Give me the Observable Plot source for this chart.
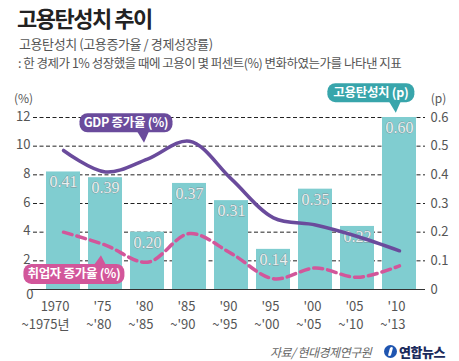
<!DOCTYPE html>
<html><head><meta charset="utf-8">
<script src="https://cdn.jsdelivr.net/npm/d3@7"></script>
<script src="https://cdn.jsdelivr.net/npm/@observablehq/plot@0.6"></script>
<style>
body{margin:0;background:#fff;width:459px;height:361px;overflow:hidden;position:relative;font-family:"Noto Sans CJK KR","Noto Sans",sans-serif;}
#title{position:absolute;left:17px;top:3px;font-size:22px;font-weight:700;color:#222;letter-spacing:-1.5px;line-height:28px;white-space:nowrap}
#sub1{position:absolute;left:19px;top:35px;font-size:13px;color:#555;letter-spacing:-0.4px;line-height:18px;white-space:nowrap}
#sub2{position:absolute;left:18px;top:54px;font-size:12.5px;color:#555;letter-spacing:-0.5px;line-height:18px;white-space:nowrap}
#chart{position:absolute;left:0;top:80px}
#src{position:absolute;left:270px;top:343px;font-size:12px;font-style:italic;color:#666;letter-spacing:-0.5px;line-height:18px;white-space:nowrap}
#logo{position:absolute;left:384px;top:342px;display:flex;align-items:center;white-space:nowrap}
#logo .c{width:13px;height:13px;border-radius:50%;background:#1f55b0;margin-right:2px;position:relative}
#logo .c:after{content:"";position:absolute;left:5px;top:2px;width:3px;height:9px;background:#fff;border-radius:2px;transform:skewX(-15deg)}
#logo .t{font-size:13px;font-weight:900;color:#1b2b5c;letter-spacing:-0.5px}
</style></head>
<body>
<div id="title">고용탄성치 추이</div>
<div id="sub1">고용탄성치 (고용증가율 / 경제성장률)</div>
<div id="sub2">: 한 경제가 1% 성장했을 때에 고용이 몇 퍼센트(%) 변화하였는가를 나타낸 지표</div>
<div id="chart"></div>
<div id="src">자료/ 현대경제연구원</div>
<div id="logo"><span class="c"></span><span class="t">연합뉴스</span></div>
<script>
const periods = ["1970~1975","1975~1980","1980~1985","1985~1990","1990~1995","1995~2000","2000~2005","2005~2010","2010~2013"];
const tickTop = ["1970","'75","'80","'85","'90","'95","'00","'05","'10"];
const tickBottom = ["~1975년","~'80","~'85","~'90","~'95","~'00","~'05","~'10","~'13"];
const elasticity = [0.41,0.39,0.20,0.37,0.31,0.14,0.35,0.22,0.60];
const gdpGrowth = [9.7,8.2,9.1,10.35,7.7,5.0,4.5,3.7,2.7];
const empGrowth = [4.0,3.1,1.9,3.9,2.5,0.75,1.5,0.85,1.65];
const leftTicks = [0,2,4,6,8,10,12];
const pScale = 20; // 0.6 p aligns with 12 %

const data = periods.map((p,i)=>({period:p, e:elasticity[i], gdp:gdpGrowth[i], emp:empGrowth[i]}));
const labelOf = Object.fromEntries(periods.map((p,i)=>[p, tickTop[i]+"\n"+tickBottom[i]]));

const teal="#80cdd0", purple="#6a4b9c", pink="#d2569a", tealDark="#38a5ab";

const plot = Plot.plot({
  width:459, height:260,
  marginTop:37, marginBottom:51, marginLeft:38, marginRight:36,
  style:{fontFamily:'"Noto Sans CJK KR","Liberation Sans",sans-serif', background:"transparent", overflow:"visible"},
  x:{domain:periods, paddingInner:0.2, paddingOuter:0.1, axis:null},
  y:{domain:[0,12], axis:null},
  marks:[
    Plot.ruleY(leftTicks.filter(d=>d>0), {stroke:"#222", strokeWidth:1, strokeDasharray:"4,2.5", insetLeft:-5, insetRight:-2}),
    Plot.barY(data, {x:"period", y:d=>d.e*pScale, fill:teal}),
    Plot.ruleY([0], {stroke:"#333", strokeWidth:1.2, insetLeft:-8, insetRight:-2}),
    Plot.text(data, {x:"period", y:d=>d.e*pScale, text:d=>d.e.toFixed(2), lineAnchor:"top", dy:4,
      fontFamily:'"Liberation Serif",serif', fontSize:16, fill:"#e9f0f1", stroke:"#7c9496", strokeWidth:0.8, paintOrder:"stroke"}),
    Plot.line(data, {x:"period", y:"gdp", curve:"catmull-rom", stroke:purple, strokeWidth:3.5}),
    Plot.line(data, {x:"period", y:"emp", curve:"catmull-rom", stroke:pink, strokeWidth:3.5, strokeDasharray:"9,5"}),
    Plot.axisY({ticks:leftTicks.filter(d=>d>0), tickSize:0, tickPadding:8, label:null, fontSize:13, color:"#555", dy:-1}),
    Plot.axisY({ticks:[0], tickSize:0, tickPadding:8, label:null, fontSize:13, color:"#555", dy:5, dx:3}),
    Plot.axisY({anchor:"right", ticks:leftTicks, tickSize:0, tickPadding:7, label:null, fontSize:13, color:"#555",
      tickFormat:d=>d===0?"0":(d/pScale).toFixed(1)}),
    Plot.axisX({tickSize:0, tickPadding:9, label:null, fontSize:13, color:"#555", lineHeight:1.35,
      tickFormat:d=>labelOf[d], textAnchor:"end", dx:6}),
    Plot.text(["(%)"], {frameAnchor:"top-left", dx:-15, dy:-23, fontSize:12, fill:"#555", textAnchor:"middle"}),
    Plot.text(["(p)"], {frameAnchor:"top-right", dx:15, dy:-23, fontSize:12, fill:"#555", textAnchor:"middle"})
  ]
});
document.getElementById("chart").appendChild(plot);

// callouts positioned through the plot's scales
const xs = plot.scale("x"), ys = plot.scale("y");
const cx = i => xs.apply(periods[i]) + xs.bandwidth/2;
const step = cx(1)-cx(0);
const svg = d3.select(plot);
function callout(x, yv, w, h, color, text, tailX, tipV, down){
  const y = ys.apply(yv), tipY = ys.apply(tipV);
  const g = svg.append("g");
  const top = y-h/2, bot = y+h/2;
  if(down){
    g.append("path").attr("d",`M${tailX-6},${bot-1}L${tailX+6},${bot-1}L${tailX+1},${tipY}Z`).attr("fill",color);
  } else {
    g.append("path").attr("d",`M${tailX-6},${top+1}L${tailX+6},${top+1}L${tailX+1},${tipY}Z`).attr("fill",color);
  }
  g.append("rect").attr("x",x-w/2).attr("y",top).attr("width",w).attr("height",h).attr("rx",8).attr("fill",color);
  g.append("text").attr("x",x).attr("y",y).attr("dy","0.36em").attr("text-anchor","middle")
    .attr("fill","#fff").attr("font-size",12.5).attr("font-weight",700).attr("letter-spacing","-0.3")
    .attr("font-family",'"Noto Sans CJK KR",sans-serif').text(text);
}
callout((cx(1)+cx(2))/2, 11.6, 93, 19, purple, "GDP 증가율 (%)", (cx(1)+cx(2))/2+17, 10.2, true);
callout(cx(0)+0.26*step, 1.05, 101, 20, pink, "취업자 증가율 (%)", cx(0)+0.88*step, 2.35, false);
callout(cx(8)-0.67*step, 13.7, 87, 19, tealDark, "고용탄성치 (p)", cx(8)-0.1*step, 12.3, true);
</script>
</body></html>
